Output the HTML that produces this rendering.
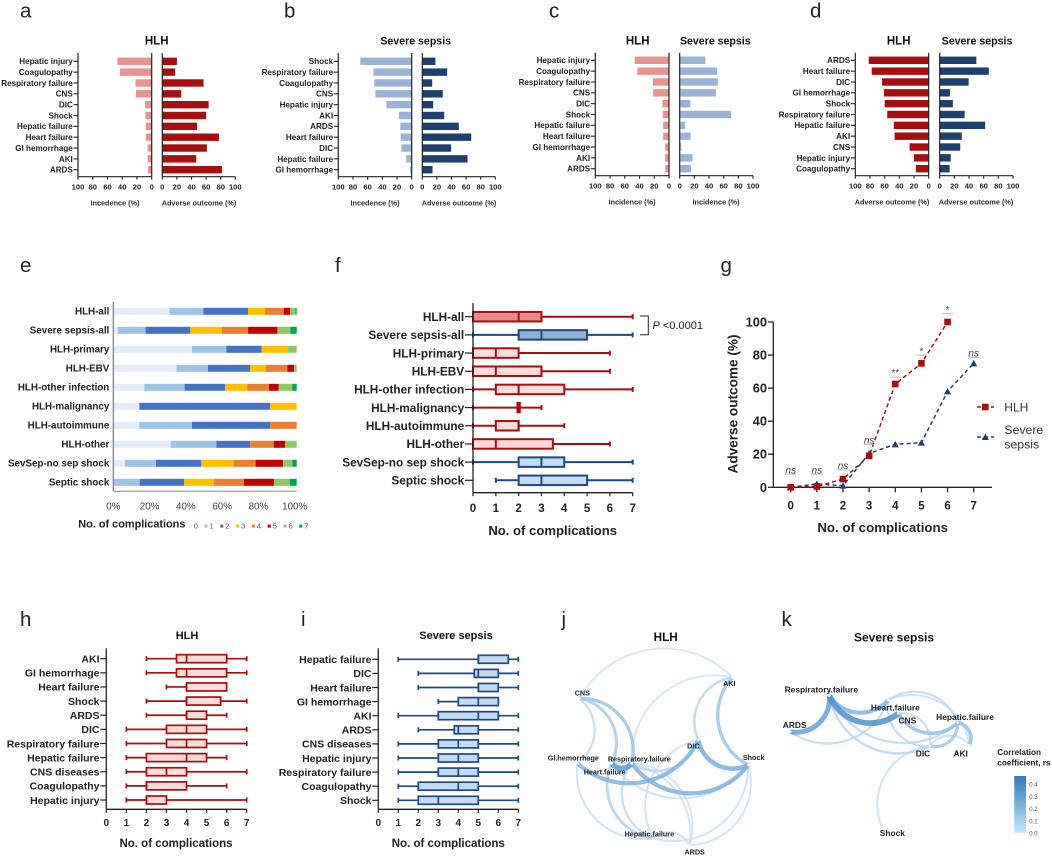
<!DOCTYPE html>
<html lang="en">
<head>
<meta charset="utf-8">
<title>HLH and severe sepsis complications</title>
<style>
html,body{margin:0;padding:0;background:#fff;}
svg{display:block;font-family:"Liberation Sans",sans-serif;filter:blur(0.35px);}
.letter{font-size:20.5px;fill:#222;}
</style>
</head>
<body>
<svg id="figure" width="1052" height="856" viewBox="0 0 1052 856">
<rect x="0" y="0" width="1052" height="856" fill="#fff"/>
<text class="letter" x="20" y="17.7">a</text>
<text class="letter" x="284" y="17.7">b</text>
<text class="letter" x="549" y="17.7">c</text>
<text class="letter" x="810" y="17.7">d</text>
<text class="letter" x="20" y="272">e</text>
<text class="letter" x="335" y="272">f</text>
<text class="letter" x="720.5" y="272">g</text>
<text class="letter" x="20" y="626">h</text>
<text class="letter" x="301" y="626">i</text>
<text class="letter" x="561.5" y="626">j</text>
<text class="letter" x="781.5" y="626">k</text>
<g id="panel-a"></g>
<g id="panel-b"></g>
<g id="panel-c"></g>
<g id="panel-d"></g>
<g id="panel-e"></g>
<g id="panel-f"></g>
<g id="panel-g"></g>
<g id="panel-h"></g>
<g id="panel-i"></g>
<g id="panel-j"></g>
<g id="panel-k"></g>
</svg>
<script>
/* ---------- panel a ---------- */
const aCategories = ['Hepatic injury','Coagulopathy','Respiratory failure','CNS','DIC','Shock','Hepatic failure','Heart failure','GI hemorrhage','AKI','ARDS'];
const aIncidence = [46.6,43,22,21.5,9,8.5,8,8,5.5,5.5,5];
const aAdverse = [20,17.5,56.5,26,63.5,60,47.5,77.6,61,46.5,81.7];
/* ---------- panel b ---------- */
const bCategories = ['Shock','Respiratory failure','Coagulopathy','CNS','Hepatic injury','AKI','ARDS','Heart failure','DIC','Hepatic failure','GI hemorrhage'];
const bIncidence = [70,52,51,49.5,34.5,17.5,15.5,15,14,7.5,2];
const bAdverse = [18,34,13.5,28,15,30,50,67,39.5,62,14];
/* ---------- panel c ---------- */
const cCategories = ['Hepatic injury','Coagulopathy','Respiratory failure','CNS','DIC','Shock','Hepatic failure','Heart failure','GI hemorrhage','AKI','ARDS'];
const cHlhIncidence = [46.6,43,22,21.5,9,8.5,8,8,5.5,5.5,5];
const cSepsisIncidence = [35,51,52,49.5,14.5,70,7.5,15,2,17.5,15.5];
/* ---------- panel d ---------- */
const dCategories = ['ARDS','Heart failure','DIC','GI hemorrhage','Shock','Respiratory failure','Hepatic failure','AKI','CNS','Hepatic injury','Coagulopathy'];
const dHlhAdverse = [81.7,77.6,63.5,61,60,56.5,47.5,46.5,26,20,17.5];
const dSepsisAdverse = [50,67,39.5,14,18,34,62,30,28,15,13.5];
const mirrorTicks = [0,20,40,60,80,100];
/* ---------- panel e ---------- */
const eCategories = ['HLH-all','Severe sepsis-all','HLH-primary','HLH-EBV','HLH-other infection','HLH-malignancy','HLH-autoimmune','HLH-other','SevSep-no sep shock','Septic shock'];
const eComplicationCounts = ['0','1','2','3','4','5','6','7'];
const eShare0 = [30.7,2.4,42.9,34.5,16.9,14.2,14.2,31.3,6.4,0.4];
const eShare1 = [18.4,15.2,18.7,17.1,22,0,28.7,24.9,16.9,14];
const eShare2 = [24.4,24.4,19.3,23.1,22,71.4,42.7,18.5,24.7,24.3];
const eShare3 = [9.2,17.1,14.4,8.6,12.2,14.4,0,0,17.8,16.2];
const eShare4 = [10.2,14.4,0,11.6,11.8,0,14.4,12.8,11.8,16.4];
const eShare5 = [3.6,16,0,3.6,5.3,0,0,6.1,14.9,16.3];
const eShare6 = [2.8,7,4.7,1.5,7.4,0,0,6.4,5.1,8.6];
const eShare7 = [0.7,3.5,0,0,2.4,0,0,0,2.4,3.8];
const eTicks = [0,20,40,60,80,100];
/* ---------- panel f ---------- */
const fCategories = ['HLH-all','Severe sepsis-all','HLH-primary','HLH-EBV','HLH-other infection','HLH-malignancy','HLH-autoimmune','HLH-other','SevSep-no sep shock','Septic shock'];
const fSeries = ['hlhStrong','sepsisStrong','hlh','hlh','hlh','hlh','hlh','hlh','sepsis','sepsis'];
const fMin = [0,0,0,0,0,0,0,0,0,1];
const fQ1 = [0,2,0,0,1,1.95,1,0,2,2];
const fMedian = [2,3,1,1,2,2,2,1,3,3];
const fQ3 = [3,5,2,3,4,2.05,2,3.5,4,5];
const fMax = [7,7,6,6,7,3,4,6,7,7];
const complicationTicks = [0,1,2,3,4,5,6,7];
/* ---------- panel g ---------- */
const gCounts = [0,1,2,3,4,5,6,7];
const gHlh = [0,0.5,5,19,62.5,75,100];
const gSepsis = [0,2,1,20.5,26,27,58,75];
const gSignificance = ['ns','ns','ns','ns','**','*','*','ns'];
const gSignificanceLevel = [8,8,10.5,26,66.7,80,105,78.6];
const gYTicks = [0,20,40,60,80,100];
/* ---------- panel h ---------- */
const hCategories = ['AKI','GI hemorrhage','Heart failure','Shock','ARDS','DIC','Respiratory failure','Hepatic failure','CNS diseases','Coagulopathy','Hepatic injury'];
const hMin = [2,2,3,2,2,1,1,1,1,1,1];
const hQ1 = [3.5,3.5,4,4,4,3,3,2,2,2,2];
const hMedian = [4,4,4,4,4,4,4,4,3,2,2];
const hQ3 = [6,6,6,5.7,5,5,5,5,4,4,3];
const hMax = [7,7,6,7,6,7,7,6,7,6,7];
/* ---------- panel i ---------- */
const iCategories = ['Hepatic failure','DIC','Heart failure','GI hemorrhage','AKI','ARDS','CNS diseases','Hepatic injury','Respiratory failure','Coagulopathy','Shock'];
const iMin = [1,2,2,3,1,2,1,1,1,1,1];
const iQ1 = [5,4.8,5,4,3,3.8,3,3,3,2,2];
const iMedian = [5,5,5,5,5,4,4,4,4,4,3];
const iQ3 = [6.5,6,6,6,6,5,5,5,5,5,5];
const iMax = [7,7,7,6,7,7,7,7,7,7,7];
/* ---------- panel j network ---------- */
const jEdgeFrom = ['CNS','Resp','DIC','Shock','Shock','Shock','DIC','DIC','CNS','CNS','CNS','Shock','HepF','HepF','HepF','Resp','Heart','HepF','Shock','Shock','Resp','HepF'];
const jEdgeTo = ['AKI','AKI','AKI','AKI','DIC','Resp','GI','Resp','GI','Heart','Resp','Heart','GI','Heart','Resp','ARDS','ARDS','DIC','HepF','ARDS','Heart','ARDS'];
const jEdgeRs = [0.04,0.04,0.1,0.18,0.28,0.26,0.25,0.1,0.08,0.15,0.18,0.06,0.06,0.13,0.08,0.05,0.05,0.05,0.05,0.05,0.36,0.06];
/* ---------- panel k network ---------- */
const kEdgeFrom = ['Resp','Heart','CNS','DIC','HepF','Heart','Heart','Heart','DIC','HepF','CNS','HepF','HepF','DIC','Shock'];
const kEdgeTo = ['ARDS','Resp','Resp','Resp','Resp','ARDS','HepF','AKI','Heart','CNS','DIC','DIC','AKI','AKI','DIC'];
const kEdgeRs = [0.33,0.25,0.4,0.1,0.09,0.08,0.08,0.06,0.08,0.2,0.08,0.17,0.2,0.06,0.06];
const colorbarTicks = [0,0.1,0.2,0.3,0.4];

const root = document.getElementById('figure');
const NS = root.namespaceURI;
const INK = '#222';

function make(parent, tag, attrs, content) {
  const node = document.createElementNS(NS, tag);
  for (const key in attrs) node.setAttribute(key, attrs[key]);
  if (content !== undefined) node.textContent = content;
  parent.appendChild(node);
  return node;
}
function linear(d0, d1, r0, r1) {
  return v => r0 + (v - d0) * (r1 - r0) / (d1 - d0);
}
function line(parent, x1, y1, x2, y2, stroke, width) {
  return make(parent, 'line', {x1, y1, x2, y2, stroke, 'stroke-width': width});
}
function text(parent, x, y, str, size, anchor, weight, fill) {
  return make(parent, 'text', {x, y, 'font-size': size, 'text-anchor': anchor, 'font-weight': weight, fill}, str);
}

/* ---------- mirrored bars (a-d) ---------- */
function drawMirror(g, c) {
  const xL = linear(0, 100, c.x0L, c.x100L);
  const xR = linear(0, 100, c.x0R, c.x100R);
  const yCat = linear(0, 10, c.yFirst, c.yLast);
  c.categories.forEach((cat, i) => {
    const left = make(g, 'rect', {x: xL(c.left[i]), y: yCat(i) - 3.7, width: c.x0L - xL(c.left[i]), height: 7.4, fill: c.leftFill});
    
    
    const right = make(g, 'rect', {x: c.x0R, y: yCat(i) - 3.7, width: xR(c.right[i]) - c.x0R, height: 7.4, fill: c.rightFill});
    
    
    const tick = line(g, c.x100L - 4.5, yCat(i), c.x100L, yCat(i), INK, 1.1);
    
    
    const lab = text(g, c.x100L - 5.2, yCat(i) + 2.9, cat, 8.1, 'end', 'bold', INK);
    
    
  });
  [c.x100L, c.x0L, c.x0R].forEach(x => {
    const axis = line(g, x, c.axisTop, x, c.axisBottom, INK, 1.2);
    
    
  });
  const leftAxis = line(g, c.x100L, c.axisBottom, c.x0L, c.axisBottom, INK, 1.2);
  
  
  const rightAxis = line(g, c.x0R, c.axisBottom, c.x100R, c.axisBottom, INK, 1.2);
  
  
  mirrorTicks.forEach(t => {
    [xL, xR].forEach(scale => {
      const tk = line(g, scale(t), c.axisBottom, scale(t), c.axisBottom + 3, INK, 1.1);
      
      
      const tl = text(g, scale(t), c.axisBottom + 13, String(t), 7.6, 'middle', 'bold', INK);
      
      
    });
  });
  const leftTitle = text(g, c.leftTitleX, c.axisBottom + 29, c.leftAxisTitle, 7.3, 'middle', 'bold', '#333');
  
  
  const rightTitle = text(g, c.rightTitleX, c.axisBottom + 29, c.rightAxisTitle, 7.3, 'middle', 'bold', '#333');
  
  
  c.headings.forEach(h => {
    const size = h.label === 'HLH' ? 11.5 : 10.6;
    const head = text(g, h.x, 44.5, h.label, size, 'middle', 'bold', '#111');
    
    
  });
}

const RED = '#a50f10', NAVY = '#1f3f6e', PINK = '#e8938f', SKY = '#9bb3d6';
drawMirror(document.getElementById('panel-a'), {
  categories: aCategories, left: aIncidence, right: aAdverse,
  x100L: 78, x0L: 151.7, x0R: 162.3, x100R: 235.3, yFirst: 61.3, yLast: 169.7, axisTop: 53, axisBottom: 176.7,
  leftFill: PINK, rightFill: RED, leftAxisTitle: 'Incedence (%)', rightAxisTitle: 'Adverse outcome (%)', leftTitleX: 115, rightTitleX: 199,
  headings: [{label: 'HLH', x: 156.7}]
});
drawMirror(document.getElementById('panel-b'), {
  categories: bCategories, left: bIncidence, right: bAdverse,
  x100L: 338.3, x0L: 411.7, x0R: 422.3, x100R: 495.3, yFirst: 61.3, yLast: 169.7, axisTop: 53, axisBottom: 176.7,
  leftFill: SKY, rightFill: NAVY, leftAxisTitle: 'Incedence (%)', rightAxisTitle: 'Adverse outcome (%)', leftTitleX: 375, rightTitleX: 459,
  headings: [{label: 'Severe sepsis', x: 415.7}]
});
drawMirror(document.getElementById('panel-c'), {
  categories: cCategories, left: cHlhIncidence, right: cSepsisIncidence,
  x100L: 595.3, x0L: 669, x0R: 679.7, x100R: 753, yFirst: 60.3, yLast: 168.7, axisTop: 52.7, axisBottom: 175.7,
  leftFill: PINK, rightFill: SKY, leftAxisTitle: 'Incidence (%)', rightAxisTitle: 'Incidence (%)', leftTitleX: 632, rightTitleX: 716,
  headings: [{label: 'HLH', x: 637.7}, {label: 'Severe sepsis', x: 715.3}]
});
drawMirror(document.getElementById('panel-d'), {
  categories: dCategories, left: dHlhAdverse, right: dSepsisAdverse,
  x100L: 855.3, x0L: 928.7, x0R: 939.7, x100R: 1013, yFirst: 60.3, yLast: 168.7, axisTop: 52.7, axisBottom: 175.7,
  leftFill: RED, rightFill: NAVY, leftAxisTitle: 'Adverse outcome (%)', rightAxisTitle: 'Adverse outcome (%)', leftTitleX: 892, rightTitleX: 976,
  headings: [{label: 'HLH', x: 898.7}, {label: 'Severe sepsis', x: 977}]
});

/* ---------- panel e ---------- */
(function () {
  const g = document.getElementById('panel-e');
  const shares = [eShare0, eShare1, eShare2, eShare3, eShare4, eShare5, eShare6, eShare7];
  const colours = ['#e3ecf7', '#9dc3e6', '#4472c4', '#ffc000', '#ed7d31', '#c00000', '#8fc860', '#00a651'];
  const x = linear(0, 100, 113.3, 296.7);
  const y = linear(0, 9, 311.3, 482.3);
  eCategories.forEach((cat, i) => {
    let acc = 0;
    shares.forEach((series, s) => {
      const seg = make(g, 'rect', {x: x(acc), y: y(i) - 3.5, width: x(acc + series[i]) - x(acc), height: 7, fill: colours[s]});
      
      
      acc += series[i];
    });
    const lab = text(g, 109.3, y(i) + 3.4, cat, 9.8, 'end', 'bold', INK);
    
    
  });
  const yAxis = line(g, 113.3, 301.7, 113.3, 491.3, '#777', 1.2);
  
  
  const xAxis = line(g, 113.3, 491.3, 296.7, 491.3, '#888', 1);
  
  
  eTicks.forEach(t => {
    const tl = text(g, x(t) - t * 0.02, 509.5, t + '%', 9.8, 'middle', 'normal', '#444');
    
    
  });
  const legendTitle = text(g, 78.3, 527.5, 'No. of complications', 10.9, 'start', 'bold', INK);
  
  
  const slot = linear(0, 7, 188.7, 299.3);
  eComplicationCounts.forEach((count, s) => {
    const sw = make(g, 'rect', {x: slot(s), y: 524.6, width: 3, height: 3, fill: colours[s]});
    
    
    const tl = text(g, slot(s) + 5, 528.6, count, 7.5, 'start', 'normal', '#555');
    
    
  });
})();

/* ---------- box plots (f, h, i) ---------- */
const boxStyles = {
  hlhStrong: {stroke: '#a50f10', fill: '#e58a86'},
  sepsisStrong: {stroke: '#1f4a7c', fill: '#92aed6'},
  hlh: {stroke: '#a50f10', fill: '#fbdcdc'},
  sepsis: {stroke: '#1f4a7c', fill: '#c5daf4'}
};
function drawBoxes(g, c) {
  const x = linear(0, 7, c.x0, c.x7);
  const y = linear(0, c.categories.length - 1, c.yFirst, c.yLast);
  const h = c.boxHeight, sw = c.strokeWidth;
  c.categories.forEach((cat, i) => {
    const st = boxStyles[c.series[i]];
    const yy = y(i);
    const wl = line(g, x(c.min[i]), yy, x(c.q1[i]), yy, st.stroke, sw);
    
    
    const wh = line(g, x(c.q3[i]), yy, x(c.max[i]), yy, st.stroke, sw);
    
    
    const capL = line(g, x(c.min[i]), yy - 2.5, x(c.min[i]), yy + 2.5, st.stroke, sw);
    
    
    const capH = line(g, x(c.max[i]), yy - 2.5, x(c.max[i]), yy + 2.5, st.stroke, sw);
    
    
    const box = make(g, 'rect', {x: x(c.q1[i]), y: yy - h / 2, width: x(c.q3[i]) - x(c.q1[i]), height: h, fill: st.fill, stroke: st.stroke, 'stroke-width': sw});
    
    
    const med = line(g, x(c.median[i]), yy - h / 2, x(c.median[i]), yy + h / 2, st.stroke, sw);
    
    
    const tick = line(g, c.x0 - c.tickLen, yy, c.x0, yy, INK, 1.2);
    
    
    const lab = text(g, c.x0 - c.tickLen - 0.8, yy + c.labelSize * 0.36, cat, c.labelSize, 'end', 'bold', INK);
    
    
  });
  const yAxis = line(g, c.x0, c.axisTop, c.x0, c.axisBottom, INK, 1.3);
  
  
  const xAxis = line(g, c.x0, c.axisBottom, c.x7, c.axisBottom, INK, 1.3);
  
  
  complicationTicks.forEach(t => {
    const tk = line(g, x(t), c.axisBottom, x(t), c.axisBottom + 3.5, INK, 1.2);
    
    
    const tl = text(g, x(t), c.tickLabelY, String(t), c.tickSize, 'middle', 'bold', INK);
    
    
  });
  const xt = text(g, c.titleX, c.titleY, 'No. of complications', c.titleSize, 'middle', 'bold', INK);
  
  
}

const panelF = document.getElementById('panel-f');
drawBoxes(panelF, {
  categories: fCategories, series: fSeries, min: fMin, q1: fQ1, median: fMedian, q3: fQ3, max: fMax,
  x0: 473, x7: 632.7, yFirst: 316.7, yLast: 480.3, boxHeight: 9.5, strokeWidth: 2, tickLen: 8, labelSize: 11.8,
  axisTop: 303, axisBottom: 492.7, tickLabelY: 512, tickSize: 11.5, titleX: 552.7, titleY: 535, titleSize: 13.1
});
const bracket = make(panelF, 'polyline', {points: '640,316 648.3,316 648.3,334.7 640,334.7', fill: 'none', stroke: INK, 'stroke-width': 1});


const pLabel = make(panelF, 'text', {x: 652.5, y: 329, 'font-size': 11, fill: INK});


const pItalic = make(pLabel, 'tspan', {'font-style': 'italic'}, 'P');


const pValue = make(pLabel, 'tspan', {}, ' <0.0001');



drawBoxes(document.getElementById('panel-h'), {
  categories: hCategories, series: hCategories.map(() => 'hlh'), min: hMin, q1: hQ1, median: hMedian, q3: hQ3, max: hMax,
  x0: 106.3, x7: 246.7, yFirst: 658.7, yLast: 800, boxHeight: 8, strokeWidth: 1.7, tickLen: 6, labelSize: 10.5,
  axisTop: 648.3, axisBottom: 809.3, tickLabelY: 826.2, tickSize: 10, titleX: 176, titleY: 847, titleSize: 11.5
});
const hTitle = text(document.getElementById('panel-h'), 187, 639, 'HLH', 11, 'middle', 'bold', '#111');


drawBoxes(document.getElementById('panel-i'), {
  categories: iCategories, series: iCategories.map(() => 'sepsis'), min: iMin, q1: iQ1, median: iMedian, q3: iQ3, max: iMax,
  x0: 378.3, x7: 518.3, yFirst: 659.3, yLast: 800.3, boxHeight: 8, strokeWidth: 1.7, tickLen: 6, labelSize: 10.5,
  axisTop: 648.3, axisBottom: 809.3, tickLabelY: 826.2, tickSize: 10, titleX: 448.3, titleY: 847, titleSize: 11.5
});
const iTitle = text(document.getElementById('panel-i'), 456, 639, 'Severe sepsis', 11, 'middle', 'bold', '#111');



/* ---------- panel g ---------- */
(function () {
  const g = document.getElementById('panel-g');
  const x = linear(0, 7, 790.7, 973.7);
  const y = linear(0, 100, 487.3, 322);
  const xAxis = line(g, 773.3, 487.3, 992, 487.3, INK, 1.3);
  
  
  const yAxis = line(g, 773.3, 322, 773.3, 487.3, INK, 1.3);
  
  
  gYTicks.forEach(t => {
    const tk = line(g, 768, y(t), 773.3, y(t), INK, 1.3);
    
    
    const tl = text(g, 767, y(t) + 4.5, String(t), 12.8, 'end', 'bold', INK);
    
    
  });
  gCounts.forEach(t => {
    const tk = line(g, x(t), 487.3, x(t), 492.3, INK, 1.3);
    
    
    const tl = text(g, x(t), 509.5, String(t), 11.5, 'middle', 'bold', INK);
    
    
  });
  const xt = text(g, 882.7, 532, 'No. of complications', 13.3, 'middle', 'bold', INK);
  
  
  const yt = text(g, 0, 0, 'Adverse outcome (%)', 13.6, 'middle', 'bold', INK);
  yt.setAttribute('transform', 'translate(737.5,404) rotate(-90)');
  
  

  const sepsisLine = make(g, 'polyline', {points: gSepsis.map((v, i) => x(i) + ',' + y(v)).join(' '), fill: 'none', stroke: NAVY, 'stroke-width': 1.5, 'stroke-dasharray': '4 3'});
  
  
  const hlhLine = make(g, 'polyline', {points: gHlh.map((v, i) => x(i) + ',' + y(v)).join(' '), fill: 'none', stroke: RED, 'stroke-width': 1.5, 'stroke-dasharray': '4 3'});
  
  
  const triangle = (cx, cy) => (cx - 3.6) + ',' + (cy + 3) + ' ' + cx + ',' + (cy - 3.4) + ' ' + (cx + 3.6) + ',' + (cy + 3);
  gSepsis.forEach((v, i) => {
    const m = make(g, 'polygon', {points: triangle(x(i), y(v)), fill: NAVY});
    
    
  });
  gHlh.forEach((v, i) => {
    const m = make(g, 'rect', {x: x(i) - 3.3, y: y(v) - 3.3, width: 6.6, height: 6.6, fill: RED});
    
    
  });
  gSignificance.forEach((mark, i) => {
    const yy = y(gSignificanceLevel[i]);
    const rule = line(g, x(i) - 5.5, yy, x(i) + 5.5, yy, '#aaa', 0.8);
    
    
    const t = text(g, x(i), yy - 0.8, mark, 10, 'middle', 'normal', '#444');
    t.setAttribute('font-style', mark === 'ns' ? 'italic' : 'normal');
    
    
  });
  const l1 = line(g, 977, 407, 994, 407, RED, 1.5);
  l1.setAttribute('stroke-dasharray', '4 3');
  
  
  const m1 = make(g, 'rect', {x: 982, y: 403.7, width: 6.6, height: 6.6, fill: RED});
  
  
  const t1 = text(g, 1004.3, 411.5, 'HLH', 12, 'start', 'normal', '#333');
  
  
  const l2 = line(g, 977, 437, 994, 437, NAVY, 1.5);
  l2.setAttribute('stroke-dasharray', '4 3');
  
  
  const m2 = make(g, 'polygon', {points: triangle(985.3, 437), fill: NAVY});
  
  
  const t2 = text(g, 1004.3, 434, 'Severe', 12.3, 'start', 'normal', '#333');
  
  
  const t3 = text(g, 1004.3, 448.5, 'sepsis', 12.3, 'start', 'normal', '#333');
  
  
})();

/* ---------- networks (j, k) ---------- */
function edgeColour(rs) {
  const t = Math.min(rs / 0.45, 1);
  const low = [222, 236, 248], high = [60, 135, 200];
  const c = low.map((v, i) => Math.round(v + (high[i] - v) * t));
  return 'rgb(' + c.join(',') + ')';
}
function drawNetwork(g, layout, labels, from, to, rs, ox, oy) {
  const px = v => ox + v / 3;
  const py = v => oy + v / 3;
  const order = rs.map((v, i) => i).sort((a, b) => rs[a] - rs[b]);
  order.forEach(i => {
    const a = layout[from[i]], b = layout[to[i]];
    const x1 = px(a[0]), y1 = py(a[1]), x2 = px(b[0]), y2 = py(b[1]);
    const r = 0.625 * Math.hypot(x2 - x1, y2 - y1);
    const edge = make(g, 'path', {d: 'M' + x1 + ' ' + y1 + 'A' + r + ' ' + r + ' 0 0 1 ' + x2 + ' ' + y2, fill: 'none', stroke: edgeColour(rs[i]), 'stroke-width': 1.4 + rs[i] * 11, 'stroke-opacity': 0.85});
    
    
  });
  Object.keys(layout).forEach(key => {
    const n = make(g, 'circle', {cx: px(layout[key][0]), cy: py(layout[key][1]), r: 1.3, fill: '#fff', stroke: '#cfe2f3', 'stroke-width': 0.4});
    
    
  });
  labels.forEach(item => {
    const t = text(g, px(item[1]), py(item[2]) + item[3] * 0.36, item[0], item[3], 'middle', 'bold', INK);
    
    
  });
}
const jLayout = {AKI: [608, 232], CNS: [148, 295], Shock: [655, 495], DIC: [505, 420], GI: [142, 490], Resp: [305, 490], Heart: [245, 490], HepF: [370, 715], ARDS: [478, 735]};
const jLabels = [['AKI', 598, 250, 7.2], ['CNS', 157, 279, 7.2], ['Shock', 671, 472, 7.2], ['DIC', 490, 437, 7.2], ['Gl.hemorrhage', 130, 474, 7.2], ['Respiratory.failure', 328, 477, 7.2], ['Heart.failure', 224, 515, 7.2], ['Hepatic.failure', 358, 702, 7.2], ['ARDS', 494, 755, 7.2]];
const panelJ = document.getElementById('panel-j');
drawNetwork(panelJ, jLayout, jLabels, jEdgeFrom, jEdgeTo, jEdgeRs, 530, 600);
const jTitle = text(panelJ, 665.7, 641, 'HLH', 11.7, 'middle', 'bold', '#111');



const kLayout = {Resp: [178, 287], ARDS: [60, 395], Heart: [355, 300], CNS: [385, 340], HepF: [563, 368], DIC: [480, 438], AKI: [598, 435], Shock: [335, 680]};
const kLabels = [['Respiratory.failure', 154, 268, 8.4], ['ARDS', 74, 375, 8.4], ['Heart.failure', 376, 323, 8.4], ['CNS', 412, 362, 8.4], ['Hepatic.failure', 585, 351, 8.4], ['DIC', 459, 460, 8.4], ['AKI', 572, 460, 8.4], ['Shock', 367, 699, 8.4]];
const panelK = document.getElementById('panel-k');
drawNetwork(panelK, kLayout, kLabels, kEdgeFrom, kEdgeTo, kEdgeRs, 770, 600);
const kTitle = text(panelK, 894, 641.5, 'Severe sepsis', 12, 'middle', 'bold', '#111');


const legendA = text(panelK, 997.3, 755, 'Correlation', 8.2, 'start', 'bold', INK);


const legendB = text(panelK, 997.3, 765.7, 'coefficient, rs', 8.2, 'start', 'bold', INK);


const defs = make(panelK, 'defs', {});
const gradient = make(defs, 'linearGradient', {id: 'rs-gradient', x1: 0, y1: 0, x2: 0, y2: 1});
make(gradient, 'stop', {offset: '0', 'stop-color': '#2b7bba'});
make(gradient, 'stop', {offset: '1', 'stop-color': '#c6e6fa'});
const colorbar = make(panelK, 'rect', {x: 1014.3, y: 776, width: 11.7, height: 56.7, fill: 'url(#rs-gradient)'});


const cbScale = linear(0, 0.4, 833.7, 784.7);
colorbarTicks.forEach(t => {
  const tl = text(panelK, 1029.3, cbScale(t) + 2, t.toFixed(1), 6, 'start', 'normal', '#555');
  
  
});
</script>
</body>
</html>
